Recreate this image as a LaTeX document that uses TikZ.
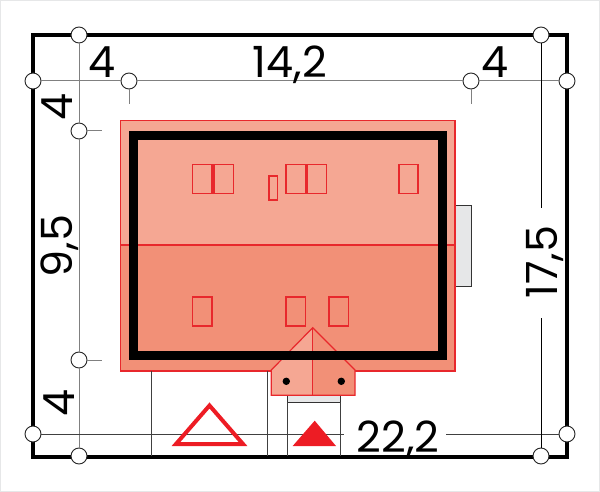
\documentclass[tikz,border=0pt]{standalone}
\usepackage{fontspec}
\setmainfont{Poppins}
\definecolor{roofred}{HTML}{E8282C}
\definecolor{signred}{HTML}{ED1C24}
\definecolor{roofup}{HTML}{F5A793}
\definecolor{roofdown}{HTML}{F29077}
\definecolor{paleslab}{HTML}{E6E7E8}
\definecolor{dimgrey}{HTML}{808080}
\tikzset{
  pin/.style={circle,draw=black!85,fill=white,line width=.9pt,minimum size=16pt,inner sep=0pt},
  dim/.style={inner sep=0pt,font=\fontsize{43}{43}\selectfont},
  dimup/.style={dim,rotate=90,anchor=base},
  dimline/.style={dimgrey,line width=1pt},
  thinline/.style={black!75,line width=.8pt},
  window/.style={draw=roofred,line width=1.2pt},
  roofline/.style={draw=roofred,line width=1.2pt,line join=miter}
}

\begin{document}
\begin{tikzpicture}[x=1pt,y=-1pt]
  \useasboundingbox (0,0) rectangle (600,492);
  \draw[paleslab,line width=1pt] (.5,.5) rectangle (599.5,491.5);

  % plot
  \draw[line width=4pt,miter limit=10] (33,35) rectangle (567,456.5);

  % terrace and step
  \draw[fill=paleslab,draw=black!80,line width=.9pt] (455,205) rectangle (471.5,286);
  \draw[fill=paleslab,draw=black!80,line width=.9pt] (287,394) rectangle (340,402);

  % roof
  \fill[roofup] (120.5,120.5) rectangle (455,245);
  \fill[roofdown] (120.5,245) rectangle (455,371);
  \draw[roofline] (120.5,120.5) rectangle (455,371);
  \draw[roofline] (120.5,245) -- (455,245);

  % porch roof
  \fill[roofup] (312.7,327.7) -- (271.3,370) -- (271.3,395.3) -- (312.7,395.3) -- cycle;
  \fill[roofdown] (312.7,327.7) -- (355,370) -- (355,395.3) -- (312.7,395.3) -- cycle;
  \draw[roofline] (312.7,327.7) -- (271.3,370) -- (271.3,395.3) -- (355,395.3) -- (355,370) -- cycle;
  \draw[roofline] (312.7,327.7) -- (312.7,395.3);
  \fill (286.3,381.3) circle (3.7);
  \fill (341.3,381.3) circle (3.7);

  % walls
  \draw[line width=9pt] (133.8,135.5) rectangle (442.5,355.5);

  % windows
  \draw[window] (192.5,164.5) rectangle (212,193.5);
  \draw[window] (214,164.5) rectangle (233.5,193.5);
  \draw[window] (269,176) rectangle (277.5,200);
  \draw[window] (286,164.5) rectangle (305.5,193.5);
  \draw[window] (307,164.5) rectangle (326.5,193.5);
  \draw[window] (399,164.5) rectangle (418,193.5);
  \draw[window] (192.5,297) rectangle (212,326);
  \draw[window] (286,297) rectangle (305.5,326);
  \draw[window] (329,297) rectangle (348.5,326);

  % pins
  \node[pin] (topA) at (79,35) {};
  \node[pin] (topB) at (541,35) {};
  \node[pin] (leftA) at (33,81) {};
  \node[pin] (leftB) at (33,434) {};
  \node[pin] (rightA) at (567,81) {};
  \node[pin] (rightB) at (567,434) {};
  \node[pin] (botA) at (79,456) {};
  \node[pin] (botB) at (541,456) {};
  \node[pin] (roofW) at (129,81) {};
  \node[pin] (roofE) at (471,81) {};
  \node[pin] (roofN) at (79,131) {};
  \node[pin] (roofS) at (79,360) {};

  % free ends
  \coordinate (tickW) at (129,104);
  \coordinate (tickE) at (471,104);
  \coordinate (tickN) at (102,131);
  \coordinate (tickS) at (102,360);
  \coordinate (gapT) at (541,208);
  \coordinate (gapB) at (541,318);
  \coordinate (gapL) at (344,434);
  \coordinate (gapR) at (446,434);
  \coordinate (footA) at (151,371);
  \coordinate (footB) at (267,371);
  \coordinate (footC) at (287,402);
  \coordinate (footD) at (340,402);
  \coordinate (baseA) at (151,456);
  \coordinate (baseB) at (267,456);
  \coordinate (baseC) at (287,456);
  \coordinate (baseD) at (340,456);

  % dimension lines
  \draw[dimline] (leftA) -- (roofW);
  \draw[dimline] (roofW) -- (roofE);
  \draw[dimline] (roofE) -- (rightA);
  \draw[dimline] (topA) -- (roofN);
  \draw[dimline] (roofN) -- (roofS);
  \draw[dimline] (roofS) -- (botA);
  \draw[dimline] (roofW) -- (tickW);
  \draw[dimline] (roofE) -- (tickE);
  \draw[dimline] (roofN) -- (tickN);
  \draw[dimline] (roofS) -- (tickS);
  \draw[thinline] (leftB) -- (gapL);
  \draw[thinline] (gapR) -- (rightB);
  \draw[black,line width=.8pt] (topB) -- (gapT);
  \draw[black,line width=.8pt] (gapB) -- (botB);
  \draw[thinline] (footA) -- (baseA);
  \draw[thinline] (footB) -- (baseB);
  \draw[thinline] (footC) -- (baseC);
  \draw[thinline] (footD) -- (baseD);

  % triangles
  \draw[signred,line width=4pt,miter limit=10] (176,444) -- (209.5,405.5) -- (243,444) -- cycle;
  \fill[signred] (292.7,446) -- (314.7,420.7) -- (336,446) -- cycle;

  % labels
  \node[dim,anchor=base] (lblA) at (102,78) {4};
  \node[dim,anchor=base] (lblB) at (290,78) {14,2};
  \node[dim,anchor=base] (lblC) at (495,78) {4};
  \node[dim,anchor=base] (lblD) at (398,452.7) {22,2};
  \node[dimup] (lblE) at (72,107) {4};
  \node[dimup] (lblF) at (72,246) {9,5};
  \node[dimup] (lblG) at (74,403) {4};
  \node[dimup] (lblH) at (557,262) {17,5};
\end{tikzpicture}
\end{document}
